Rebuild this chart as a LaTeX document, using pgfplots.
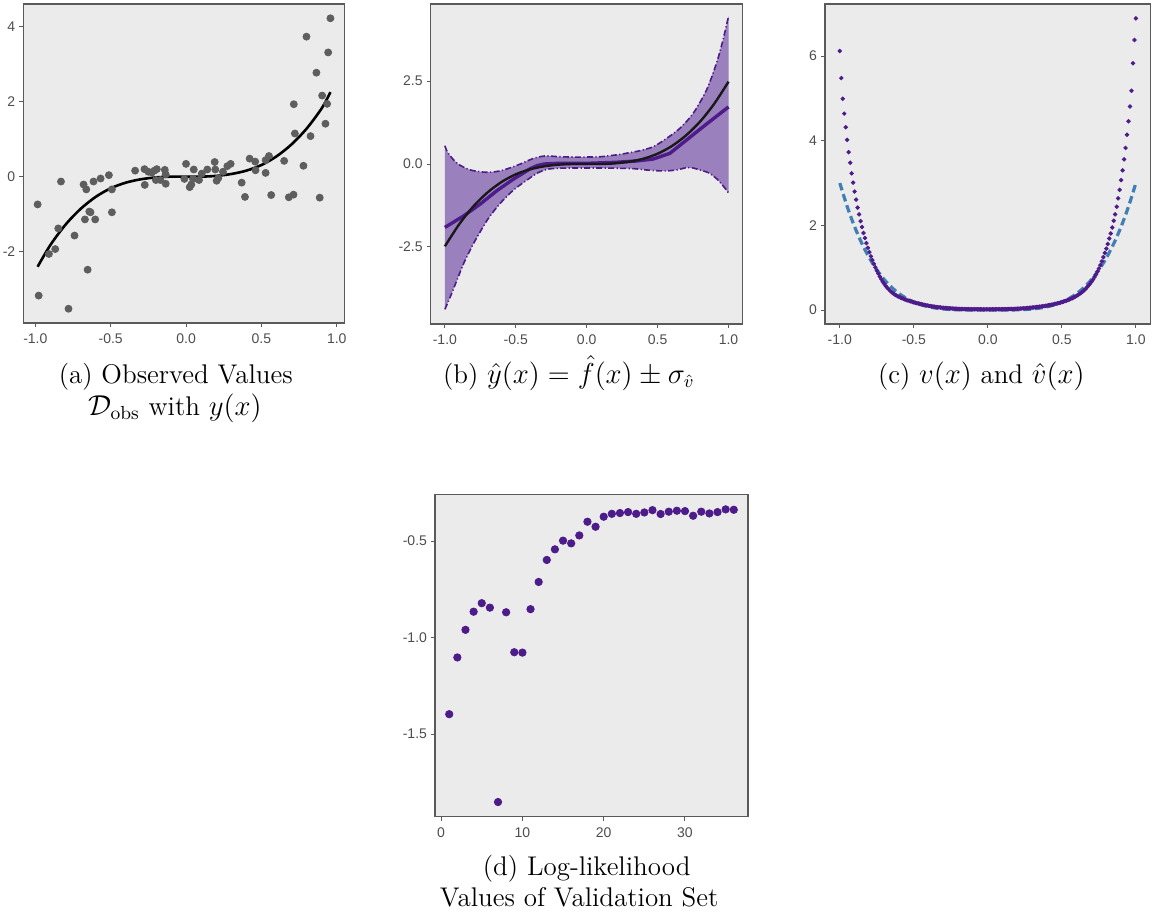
\documentclass[border=0pt]{standalone}
\usepackage{fontspec}
\usepackage{pgfplots}
\pgfplotsset{compat=1.18}
\usepackage{pgfplotstable}
\newfontfamily\tickfont{Liberation Sans}
\definecolor{bgc}{HTML}{EBEBEB}
\definecolor{framec}{HTML}{5A5A5A}
\definecolor{tickc}{HTML}{4D4D4D}
\definecolor{ptc}{HTML}{5E5E5E}
\definecolor{purp}{HTML}{4E1C8A}
\definecolor{bandc}{RGB}{155,128,190}
\definecolor{bluec}{RGB}{63,127,181}
\newcommand{\capfont}{\fontsize{13.5}{16}\selectfont}

\pgfplotstableread{
x y
-0.985 -0.74
-0.978 -3.17
-0.91 -2.06
-0.868 -1.93
-0.848 -1.38
-0.83 -0.13
-0.78 -3.52
-0.74 -1.57
-0.68 -0.21
-0.671 -1.14
-0.662 -0.34
-0.653 -2.48
-0.642 -0.93
-0.634 -0.95
-0.614 -0.13
-0.603 -1.14
-0.567 -0.05
-0.512 0.04
-0.492 -0.34
-0.492 -0.95
-0.338 0.16
-0.276 0.20
-0.274 -0.22
-0.25 0.13
-0.227 0.11
-0.21 0.16
-0.194 0.20
-0.20 -0.09
-0.17 -0.09
-0.141 0.18
-0.135 0.06
-0.135 -0.19
-0.011 -0.06
0.0 0.34
0.024 -0.28
0.035 -0.21
0.051 0.19
0.046 -0.06
0.086 -0.09
0.104 0.08
0.141 0.19
0.19 0.39
0.194 0.19
0.203 -0.11
0.214 -0.04
0.245 0.13
0.274 0.28
0.296 0.34
0.369 -0.16
0.391 -0.54
0.422 0.48
0.459 0.40
0.461 0.17
0.528 0.10
0.528 0.44
0.55 0.55
0.565 -0.49
0.651 0.42
0.682 -0.55
0.713 -0.48
0.715 1.93
0.722 1.15
0.779 0.29
0.799 3.73
0.826 1.08
0.865 2.77
0.887 -0.56
0.903 2.16
0.925 1.41
0.936 1.94
0.943 3.31
0.958 4.22
}\obsdata

\pgfplotstableread{
x y
-1 0.55
-0.983 0.37
-0.95 0.18
-0.913 0.02
-0.87 -0.09
-0.82 -0.18
-0.76 -0.23
-0.70 -0.25
-0.64 -0.23
-0.585 -0.18
-0.53 -0.10
-0.468 0.0
-0.42 0.09
-0.375 0.17
-0.33 0.22
-0.30 0.24
-0.257 0.24
-0.2 0.22
-0.1 0.21
0 0.21
0.1 0.22
0.235 0.29
0.3 0.34
0.375 0.40
0.469 0.52
0.563 0.77
0.656 1.07
0.75 1.52
0.844 2.22
0.914 3.02
0.96 3.72
1 4.45
}\upbound

\pgfplotstableread{
x y
-1 -4.38
-0.96 -3.98
-0.913 -3.48
-0.866 -2.98
-0.796 -2.38
-0.70 -1.68
-0.609 -1.18
-0.515 -0.78
-0.42 -0.48
-0.35 -0.28
-0.28 -0.16
-0.2 -0.13
-0.1 -0.12
0 -0.12
0.1 -0.12
0.235 -0.13
0.33 -0.14
0.422 -0.18
0.539 -0.21
0.633 -0.18
0.703 -0.11
0.75 -0.12
0.797 -0.18
0.867 -0.28
0.937 -0.53
1 -0.87
}\lowbound

% band polygon: upper boundary left to right, then lower boundary right to left
\pgfplotstableread{
x y
-1 0.55
-0.983 0.37
-0.95 0.18
-0.913 0.02
-0.87 -0.09
-0.82 -0.18
-0.76 -0.23
-0.70 -0.25
-0.64 -0.23
-0.585 -0.18
-0.53 -0.10
-0.468 0.0
-0.42 0.09
-0.375 0.17
-0.33 0.22
-0.30 0.24
-0.257 0.24
-0.2 0.22
-0.1 0.21
0 0.21
0.1 0.22
0.235 0.29
0.3 0.34
0.375 0.40
0.469 0.52
0.563 0.77
0.656 1.07
0.75 1.52
0.844 2.22
0.914 3.02
0.96 3.72
1 4.45
1 -0.87
0.937 -0.53
0.867 -0.28
0.797 -0.18
0.75 -0.12
0.703 -0.11
0.633 -0.18
0.539 -0.21
0.422 -0.18
0.33 -0.14
0.235 -0.13
0.1 -0.12
0 -0.12
-0.1 -0.12
-0.2 -0.13
-0.28 -0.16
-0.35 -0.28
-0.42 -0.48
-0.515 -0.78
-0.609 -1.18
-0.70 -1.68
-0.796 -2.38
-0.866 -2.98
-0.913 -3.48
-0.96 -3.98
-1 -4.38
}\band

\pgfplotstableread{
x y
-1.00 6.12
-0.99 5.48
-0.98 4.99
-0.97 4.64
-0.96 4.32
-0.95 4.02
-0.94 3.73
-0.93 3.48
-0.92 3.23
-0.91 3.01
-0.90 2.80
-0.89 2.61
-0.88 2.42
-0.87 2.26
-0.86 2.10
-0.85 1.96
-0.84 1.82
-0.83 1.70
-0.82 1.58
-0.81 1.47
-0.80 1.37
-0.79 1.27
-0.78 1.18
-0.77 1.09
-0.76 1.01
-0.75 0.93
-0.74 0.86
-0.73 0.79
-0.72 0.73
-0.71 0.67
-0.70 0.62
-0.69 0.57
-0.68 0.53
-0.67 0.49
-0.66 0.455
-0.65 0.425
-0.64 0.395
-0.63 0.37
-0.62 0.347
-0.61 0.328
-0.60 0.31
-0.59 0.295
-0.58 0.28
-0.57 0.265
-0.56 0.25
-0.55 0.238
-0.54 0.226
-0.53 0.214
-0.52 0.203
-0.51 0.192
-0.50 0.182
-0.49 0.172
-0.48 0.163
-0.47 0.154
-0.46 0.146
-0.45 0.138
-0.44 0.13
-0.43 0.122
-0.42 0.115
-0.41 0.108
-0.40 0.101
-0.39 0.095
-0.38 0.089
-0.37 0.083
-0.36 0.078
-0.35 0.073
-0.34 0.068
-0.33 0.064
-0.32 0.060
-0.31 0.056
-0.30 0.052
-0.29 0.049
-0.28 0.046
-0.27 0.043
-0.26 0.040
-0.25 0.038
-0.24 0.035
-0.23 0.033
-0.22 0.031
-0.21 0.029
-0.20 0.027
-0.19 0.026
-0.18 0.024
-0.17 0.023
-0.16 0.022
-0.15 0.021
-0.14 0.020
-0.13 0.020
-0.12 0.019
-0.11 0.019
-0.10 0.018
-0.09 0.018
-0.08 0.018
-0.07 0.018
-0.06 0.017
-0.05 0.017
-0.04 0.017
-0.03 0.017
-0.02 0.017
-0.01 0.017
0.00 0.017
0.01 0.017
0.02 0.017
0.03 0.017
0.04 0.017
0.05 0.018
0.06 0.018
0.07 0.018
0.08 0.019
0.09 0.019
0.10 0.020
0.11 0.020
0.12 0.021
0.13 0.022
0.14 0.023
0.15 0.024
0.16 0.025
0.17 0.026
0.18 0.027
0.19 0.029
0.20 0.031
0.21 0.033
0.22 0.035
0.23 0.037
0.24 0.040
0.25 0.042
0.26 0.045
0.27 0.048
0.28 0.051
0.29 0.054
0.30 0.058
0.31 0.062
0.32 0.066
0.33 0.070
0.34 0.074
0.35 0.079
0.36 0.084
0.37 0.089
0.38 0.094
0.39 0.100
0.40 0.106
0.41 0.112
0.42 0.119
0.43 0.126
0.44 0.133
0.45 0.141
0.46 0.149
0.47 0.158
0.48 0.167
0.49 0.177
0.50 0.187
0.51 0.198
0.52 0.210
0.53 0.222
0.54 0.235
0.55 0.249
0.56 0.264
0.57 0.280
0.58 0.297
0.59 0.316
0.60 0.336
0.61 0.358
0.62 0.382
0.63 0.408
0.64 0.436
0.65 0.466
0.66 0.50
0.67 0.54
0.68 0.58
0.69 0.62
0.70 0.67
0.71 0.72
0.72 0.78
0.73 0.84
0.74 0.91
0.75 0.98
0.76 1.06
0.77 1.15
0.78 1.25
0.79 1.35
0.80 1.45
0.81 1.56
0.82 1.69
0.83 1.81
0.84 1.95
0.85 2.11
0.86 2.26
0.87 2.44
0.88 2.64
0.89 2.84
0.90 3.07
0.91 3.30
0.92 3.56
0.93 3.83
0.94 4.14
0.95 4.46
0.96 4.81
0.97 5.18
0.98 5.83
0.99 6.38
1.00 6.89
}\vhat

\pgfplotstableread{
x y
1 -1.397
2 -1.103
3 -0.960
4 -0.866
5 -0.822
6 -0.845
7 -1.852
8 -0.869
9 -1.076
10 -1.078
11 -0.853
12 -0.712
13 -0.598
14 -0.543
15 -0.498
16 -0.512
17 -0.471
18 -0.400
19 -0.426
20 -0.374
21 -0.359
22 -0.355
23 -0.350
24 -0.359
25 -0.352
26 -0.340
27 -0.360
28 -0.348
29 -0.343
30 -0.345
31 -0.369
32 -0.348
33 -0.357
34 -0.350
35 -0.336
36 -0.338
}\llik

\pgfplotsset{ggp/.style={
  scale only axis,
  axis background/.style={fill=bgc},
  axis line style={framec, line width=0.6pt},
  tick align=outside,
  major tick length=2pt,
  tick style={framec, line width=0.5pt},
  xtick pos=left, ytick pos=left,
  ticklabel style={font=\tickfont\fontsize{7}{8}\selectfont, text=tickc},
  yticklabel style={xshift=1.5pt},
  /pgf/number format/assume math mode=true,
}}
\pgfplotsset{onedec/.style={/pgf/number format/fixed, /pgf/number format/fixed zerofill, /pgf/number format/precision=1}}

\begin{document}
\begin{tikzpicture}
\path[use as bounding box] (0,0) rectangle (576pt,-457.5pt);

% (a)
\begin{axis}[ggp, at={(11.65pt,-161.5pt)}, anchor=south west,
  width=160.5pt, height=159.5pt,
  xmin=-1.08, xmax=1.05, ymin=-3.9, ymax=4.6,
  xtick={-1,-0.5,0,0.5,1}, ytick={-2,0,2,4},
  xticklabel style={onedec}]
\addplot[ptc, only marks, mark=*, mark size=1.75pt] table[x=x,y=y] {\obsdata};
\addplot[black, line width=1.3pt, smooth] coordinates {(-0.985,-2.40)(-0.9,-1.82)(-0.8,-1.28)(-0.7,-0.86)(-0.6,-0.54)(-0.5,-0.31)(-0.4,-0.16)(-0.3,-0.07)(-0.2,-0.02)(-0.1,0)(0,0)(0.1,0)(0.2,0.02)(0.3,0.07)(0.4,0.16)(0.5,0.31)(0.6,0.54)(0.7,0.86)(0.8,1.28)(0.9,1.82)(0.958,2.25)};
\end{axis}

% (b)
\begin{axis}[ggp, at={(215.35pt,-162pt)}, anchor=south west,
  width=156pt, height=160pt,
  xmin=-1.1, xmax=1.1, ymin=-4.82, ymax=4.82,
  xtick={-1,-0.5,0,0.5,1}, ytick={-2.5,0,2.5},
  xticklabel style={onedec}, yticklabel style={onedec}]
\addplot[fill=bandc, draw=none] table[x=x,y=y] {\band} -- cycle;
\addplot[purp, line width=0.8pt, smooth, dash pattern=on 3pt off 1.2pt on 0.6pt off 1.2pt] table[x=x,y=y] {\upbound};
\addplot[purp, line width=0.8pt, smooth, dash pattern=on 3pt off 1.2pt on 0.6pt off 1.2pt] table[x=x,y=y] {\lowbound};
\addplot[purp, line width=1.7pt] coordinates {(-1,-1.91)(-0.866,-1.56)(-0.749,-1.20)(-0.632,-0.80)(-0.515,-0.45)(-0.45,-0.28)(-0.398,-0.14)(-0.35,-0.05)(-0.30,0.0)(-0.2,0.02)(0,0.02)(0.2,0.05)(0.35,0.09)(0.469,0.15)(0.586,0.32)(0.703,0.72)(0.82,1.12)(1,1.72)};
\addplot[black!90, line width=1.2pt, smooth] coordinates {(-1,-2.48)(-0.9,-1.82)(-0.8,-1.28)(-0.7,-0.86)(-0.6,-0.54)(-0.5,-0.31)(-0.4,-0.16)(-0.3,-0.07)(-0.2,-0.02)(-0.1,0)(0,0)(0.1,0)(0.2,0.02)(0.3,0.07)(0.4,0.16)(0.5,0.31)(0.6,0.54)(0.7,0.86)(0.8,1.28)(0.9,1.82)(1,2.48)};
\end{axis}

% (c)
\begin{axis}[ggp, at={(412.5pt,-162pt)}, anchor=south west,
  width=162.85pt, height=160pt,
  xmin=-1.1, xmax=1.1, ymin=-0.33, ymax=7.23,
  xtick={-1,-0.5,0,0.5,1}, ytick={0,2,4,6},
  xticklabel style={onedec}]
\addplot[bluec, line width=1.6pt, smooth, dash pattern=on 3.8pt off 2pt] coordinates {(-1,3.0)(-0.95,2.4435)(-0.9,1.9683)(-0.85,1.566)(-0.8,1.2288)(-0.75,0.9492)(-0.7,0.7203)(-0.65,0.5355)(-0.6,0.3888)(-0.55,0.2745)(-0.5,0.1875)(-0.45,0.123)(-0.4,0.0768)(-0.35,0.045)(-0.3,0.0243)(-0.25,0.0117)(-0.2,0.0048)(-0.15,0.0015)(-0.1,0.0003)(0,0)(0.1,0.0003)(0.15,0.0015)(0.2,0.0048)(0.25,0.0117)(0.3,0.0243)(0.35,0.045)(0.4,0.0768)(0.45,0.123)(0.5,0.1875)(0.55,0.2745)(0.6,0.3888)(0.65,0.5355)(0.7,0.7203)(0.75,0.9492)(0.8,1.2288)(0.85,1.566)(0.9,1.9683)(0.95,2.4435)(1,3.0)};
\addplot[purp, only marks, mark=*, mark size=0.9pt] table[x=x,y=y] {\vhat};
\end{axis}

% (d)
\begin{axis}[ggp, at={(217.5pt,-408.35pt)}, anchor=south west,
  width=156.5pt, height=161pt,
  xmin=-0.75, xmax=37.75, ymin=-1.928, ymax=-0.26,
  xtick={0,10,20,30}, ytick={-1.5,-1,-0.5},
  yticklabel style={onedec}]
\addplot[purp, only marks, mark=*, mark size=1.85pt] table[x=x,y=y] {\llik};
\end{axis}

\node[anchor=base, font=\capfont, inner sep=0pt] at (87.9pt,-191.5pt) {(a) Observed Values};
\node[anchor=base, font=\capfont, inner sep=0pt] at (87.5pt,-207.5pt) {$\mathcal{D}_{\mathrm{obs}}$ with $y(x)$};
\node[anchor=base, font=\capfont, inner sep=0pt] at (284.4pt,-191.5pt) {(b) $\hat{y}(x)=\hat{f}(x)\pm\sigma_{\hat{v}}$};
\node[anchor=base, font=\capfont, inner sep=0pt] at (490.65pt,-191.5pt) {(c) $v(x)$ and $\hat{v}(x)$};
\node[anchor=base, font=\capfont, inner sep=0pt] at (293.35pt,-437.5pt) {(d) Log-likelihood};
\node[anchor=base, font=\capfont, inner sep=0pt] at (289.6pt,-453pt) {Values of Validation Set};
\end{tikzpicture}
\end{document}
